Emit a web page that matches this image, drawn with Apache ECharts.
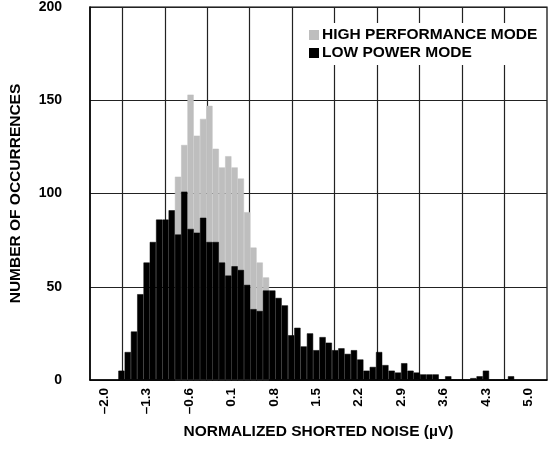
<!DOCTYPE html>
<html>
<head>
<meta charset="utf-8">
<script src="https://cdn.jsdelivr.net/npm/echarts@6/dist/echarts.min.js"></script>
<style>
  html, body { margin: 0; padding: 0; background: #fff; }
  #chart { width: 553px; height: 450px; }
</style>
</head>
<body>
<div id="chart"></div>
<script>
// bin centres (µV)
const binCenters = [
  -1.714, -1.610, -1.507, -1.403, -1.299, -1.196, -1.092, -0.988, -0.885, -0.781,
  -0.678, -0.574, -0.470, -0.367, -0.263, -0.159, -0.056, 0.048, 0.152, 0.255,
  0.359, 0.463, 0.566, 0.670, 0.774, 0.877, 0.981, 1.085, 1.188, 1.292,
  1.396, 1.499, 1.603, 1.706, 1.810, 1.914, 2.017, 2.121, 2.225, 2.328,
  2.432, 2.536, 2.639, 2.743, 2.847, 2.950, 3.054, 3.157, 3.261, 3.365,
  3.468, 3.572, 3.676, 3.779, 3.883, 3.987, 4.090, 4.194, 4.298, 4.401,
  4.505, 4.609, 4.712
];

const lowPowerCounts = [
  5, 15, 26, 46, 63, 74, 86, 86, 91, 78,
  101, 81, 79, 87, 74, 74, 63, 56, 61, 59,
  51, 38, 37, 48, 48, 44, 40, 24, 28, 18,
  25, 16, 23, 20, 16, 17, 14, 16, 11, 5,
  7, 15, 8, 5, 4, 9, 5, 4, 3, 3,
  3, 0, 2, 0, 0, 0, 1, 2, 5, 0,
  0, 0, 2
];

// only the part that shows above the low power bars
const highPerfCounts = [
  null, null, null, null, null, null, null, null, null, 109,
  126, 153, 131, 140, 147, 124, 114, 120, 114, 108,
  90, 71, 63, 55, null, null, null, null, null, null,
  null, null, null, null, null, null, null, null, null, null,
  null, null, null, null, null, null, null, null, null, null,
  null, null, null, null, null, null, null, null, null, null,
  null, null, null
];

const xLabelValues = [-2.0, -1.3, -0.6, 0.1, 0.8, 1.5, 2.2, 2.9, 3.6, 4.3, 5.0];
const xGridValues = [-1.7, -1.0, -0.3, 0.4, 1.1, 1.8, 2.5, 3.2, 3.9, 4.6];

const font = "'Liberation Sans', Arial, sans-serif";

const chart = echarts.init(document.getElementById('chart'));

const toPairs = (vals) => binCenters.map((x, i) => [x, vals[i]]);

chart.setOption({
  animation: false,
  textStyle: { fontFamily: font, fontWeight: 'bold', color: '#000' },
  grid: {
    left: 90, right: 6, top: 7, bottom: 70,
    show: true, borderColor: '#000', borderWidth: 1.2
  },
  legend: {
    orient: 'vertical',
    left: 305, top: 23,
    padding: [4, 6, 4, 4],
    backgroundColor: '#fff',
    itemWidth: 8, itemHeight: 8, itemGap: 2,
    icon: 'rect',
    textStyle: { fontFamily: font, fontWeight: 'bold', fontSize: 15.5, color: '#000', padding: [0, 0, 0, -1] },
    data: ['HIGH PERFORMANCE MODE', 'LOW POWER MODE']
  },
  xAxis: {
    type: 'value',
    min: -2.233, max: 5.305,
    name: 'NORMALIZED SHORTED NOISE (µV)',
    nameLocation: 'middle',
    nameGap: 44,
    nameTextStyle: { fontFamily: font, fontWeight: 'bold', fontSize: 15.5, color: '#000' },
    axisLine: { show: true, onZero: false, lineStyle: { color: '#000', width: 1.5 } },
    axisTick: { show: false, customValues: xGridValues },
    splitLine: { show: true, lineStyle: { color: '#222', width: 1.2 } },
    axisLabel: {
      customValues: xLabelValues,
      rotate: 90,
      margin: 8,
      fontFamily: font, fontWeight: 'bold', fontSize: 13.5, color: '#000',
      formatter: (v) => (v < 0 ? '–' : '') + Math.abs(v).toFixed(1)
    }
  },
  yAxis: {
    type: 'value',
    min: 0, max: 200, interval: 50,
    name: 'NUMBER OF OCCURRENCES',
    nameLocation: 'middle',
    nameGap: 66,
    nameTextStyle: { fontFamily: font, fontWeight: 'bold', fontSize: 15.5, color: '#000' },
    axisLine: { show: true, onZero: false, lineStyle: { color: '#000', width: 1.5 } },
    axisTick: { show: false },
    splitLine: { show: true, lineStyle: { color: '#222', width: 1.2 } },
    axisLabel: { margin: 28, fontFamily: font, fontWeight: 'bold', fontSize: 14, color: '#000' }
  },
  series: [
    {
      name: 'HIGH PERFORMANCE MODE',
      type: 'bar',
      barGap: '-100%',
      barCategoryGap: 0,
      itemStyle: { color: '#bebebe', borderColor: '#bebebe', borderWidth: 0.5 },
      data: toPairs(highPerfCounts)
    },
    {
      name: 'LOW POWER MODE',
      type: 'bar',
      barGap: '-100%',
      barCategoryGap: 0,
      itemStyle: { color: '#000', borderColor: '#000', borderWidth: 0.5 },
      data: toPairs(lowPowerCounts)
    }
  ]
});
</script>
</body>
</html>
